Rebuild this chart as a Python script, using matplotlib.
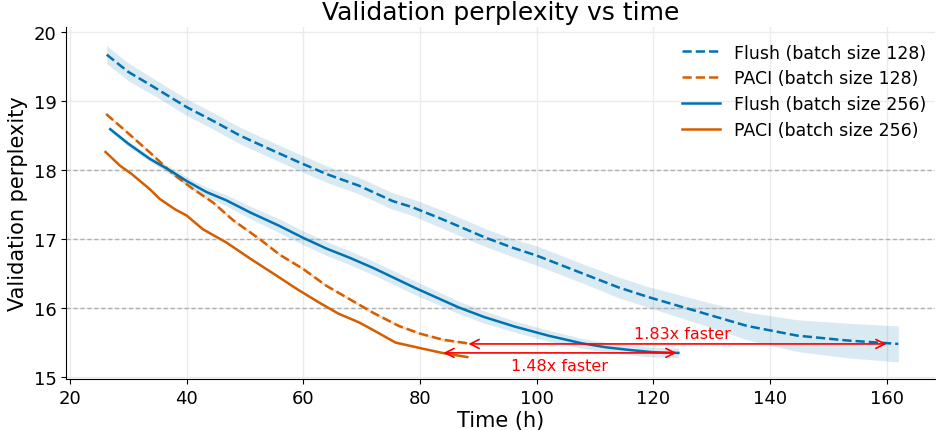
import numpy as np
import matplotlib.pyplot as plt

# ---- data ----
flush128_t = [26.3, 30, 34, 40, 45, 49.1, 54, 59.3, 64, 69.6, 75.3, 78.7, 84, 91.2, 96, 100, 108.5, 114, 119.1, 127.6, 136.1, 144.7, 153.2, 162]
flush128_y = [19.67, 19.42, 19.22, 18.91, 18.69, 18.50, 18.31, 18.11, 17.94, 17.77, 17.55, 17.46, 17.28, 17.02, 16.87, 16.76, 16.48, 16.30, 16.16, 15.95, 15.74, 15.60, 15.53, 15.48]
flush128_err = [0.13, 0.13, 0.12, 0.12, 0.12, 0.12, 0.12, 0.12, 0.12, 0.12, 0.12, 0.12, 0.13, 0.13, 0.13, 0.14, 0.14, 0.15, 0.15, 0.17, 0.2, 0.23, 0.25, 0.26]

flush256_t = [26.9, 30, 33.7, 37.2, 40, 43.4, 46.8, 51, 55.9, 59.9, 64, 67.9, 72, 79.2, 86.6, 91, 96.3, 102, 107.7, 112, 116.2, 120, 124.3]
flush256_y = [18.59, 18.38, 18.16, 17.99, 17.84, 17.68, 17.56, 17.38, 17.19, 17.02, 16.86, 16.73, 16.58, 16.29, 16.01, 15.87, 15.73, 15.60, 15.49, 15.43, 15.39, 15.36, 15.35]
flush256_err = [0.03, 0.04, 0.04, 0.05, 0.06, 0.07, 0.08, 0.09, 0.1, 0.1, 0.1, 0.1, 0.1, 0.1, 0.09, 0.09, 0.08, 0.08, 0.07, 0.07, 0.07, 0.07, 0.07]

paci128_t = [26.2, 30, 34, 37.7, 41, 44.5, 48, 52.5, 56, 59.9, 64, 67.9, 72, 76.4, 80, 84, 88.1]
paci128_y = [18.81, 18.53, 18.23, 17.94, 17.73, 17.53, 17.27, 17.00, 16.77, 16.57, 16.32, 16.13, 15.93, 15.74, 15.63, 15.54, 15.49]

paci256_t = [26.1, 28.6, 30.6, 33.7, 35.4, 38.0, 40, 42.8, 46.8, 51, 55.4, 59, 62.7, 66, 69.6, 72, 75.8, 80, 83.8, 88.1]
paci256_y = [18.26, 18.06, 17.94, 17.72, 17.58, 17.43, 17.34, 17.14, 16.95, 16.71, 16.47, 16.27, 16.08, 15.92, 15.79, 15.68, 15.50, 15.42, 15.35, 15.29]

labels = ["Flush (batch size 128)", "PACI (batch size 128)",
          "Flush (batch size 256)", "PACI (batch size 256)"]

BLUE = "#0072B2"
ORANGE = "#D55E00"

fig, ax = plt.subplots(figsize=(9.36, 4.31), dpi=100)
fig.subplots_adjust(left=0.071, right=0.999, top=0.935, bottom=0.118)

# bands
ax.fill_between(flush128_t, np.array(flush128_y) - flush128_err, np.array(flush128_y) + flush128_err,
                color=BLUE, alpha=0.15, linewidth=0)
ax.fill_between(flush256_t, np.array(flush256_y) - flush256_err, np.array(flush256_y) + flush256_err,
                color=BLUE, alpha=0.15, linewidth=0)
ax.fill_between(paci128_t, np.array(paci128_y) - 0.02, np.array(paci128_y) + 0.02,
                color=ORANGE, alpha=0.2, linewidth=0)
ax.fill_between(paci256_t, np.array(paci256_y) - 0.01, np.array(paci256_y) + 0.01,
                color=ORANGE, alpha=0.2, linewidth=0)

ax.plot(flush128_t, flush128_y, "--", color=BLUE, lw=1.8, label=labels[0])
ax.plot(paci128_t, paci128_y, "--", color=ORANGE, lw=1.8, label=labels[1])
ax.plot(flush256_t, flush256_y, "-", color=BLUE, lw=1.8, label=labels[2])
ax.plot(paci256_t, paci256_y, "-", color=ORANGE, lw=1.8, label=labels[3])

# speedup arrows
arrow = dict(arrowstyle="<->", color="red", lw=1.2, mutation_scale=16, shrinkA=0, shrinkB=0)
ax.annotate("", xy=(88.3, flush128_y[-1]), xytext=(160, flush128_y[-1]), arrowprops=arrow)
ax.text((88.1 + 162) / 2, flush128_y[-1] + 0.04, "1.83x faster", color="red",
        ha="center", va="bottom", fontsize=11.5)
ax.annotate("", xy=(84, flush256_y[-1]), xytext=(124, flush256_y[-1]), arrowprops=arrow)
ax.text((84 + 124) / 2, flush256_y[-1] - 0.08, "1.48x faster", color="red",
        ha="center", va="top", fontsize=11.5)

ax.grid(True, color="#ebebeb", lw=1.0)
ax.set_axisbelow(True)
for yv in [16, 17, 18]:
    ax.axhline(yv, color="#b0b0b0", ls=(0, (3, 2)), lw=1.0, zorder=1)

ax.set_xlim(19.4, 168.3)
ax.set_ylim(14.97, 20.07)
ax.set_xticks([20, 40, 60, 80, 100, 120, 140, 160])
ax.set_yticks([15, 16, 17, 18, 19, 20])
ax.tick_params(labelsize=13)
for s in ["top", "right"]:
    ax.spines[s].set_visible(False)

ax.set_xlabel("Time (h)", fontsize=15, labelpad=2)
ax.set_ylabel("Validation perplexity", fontsize=15)
ax.set_title("Validation perplexity vs time", fontsize=18)
ax.legend(loc="upper right", bbox_to_anchor=(1.009, 1.0), frameon=False, fontsize=12.5,
          handlelength=2.2, labelspacing=0.45, borderaxespad=0.55)

fig.savefig("out.png", dpi=100)
